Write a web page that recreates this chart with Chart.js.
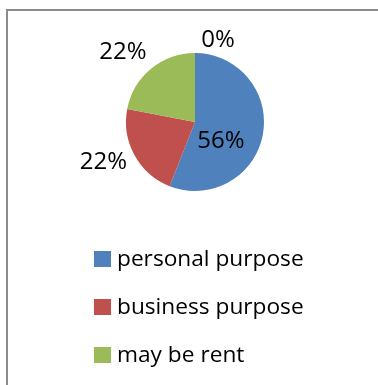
<!DOCTYPE html>
<html>
<head>
<meta charset="utf-8">
<script src="https://cdn.jsdelivr.net/npm/chart.js@4/dist/chart.umd.min.js"></script>
<style>
  html, body { margin: 0; padding: 0; background: #fff; }
  #wrap { position: relative; width: 378px; height: 385px; }
</style>
</head>
<body>
<div id="wrap"><canvas id="chart" width="378" height="385"></canvas></div>
<script>
// purpose of use, share of answers (%)
const categories = ["personal purpose", "business purpose", "may be rent", ""];
const shares = [56, 22, 22, 0];
const colors = ["#4F81BD", "#C0504D", "#9BBB59", "#F79646"];

const FONT = "'Open Sans', 'Noto Sans', sans-serif";

// frame lines along the left and top
const framePlugin = {
    id: 'frame',
    beforeDraw(chart) {
        const ctx = chart.ctx;
        ctx.save();
        ctx.strokeStyle = '#8c8c8c';
        ctx.lineWidth = 2;
        ctx.beginPath();
        ctx.moveTo(7, 385);
        ctx.lineTo(7, 10);
        ctx.lineTo(378, 10);
        ctx.stroke();
        ctx.restore();
    }
};

// percent labels: [radius factor, angle shift in degrees]
const labelPlugin = {
    id: 'pctLabels',
    afterDatasetsDraw(chart, args, opts) {
        const ctx = chart.ctx;
        const meta = chart.getDatasetMeta(0);
        ctx.save();
        ctx.font = opts.font;
        ctx.fillStyle = '#000';
        ctx.textAlign = 'center';
        ctx.textBaseline = 'middle';
        meta.data.forEach((arc, i) => {
            const p = arc.getProps(['x', 'y', 'startAngle', 'endAngle', 'outerRadius'], true);
            const place = opts.place[i];
            const mid = (p.startAngle + p.endAngle) / 2 + place[1] * Math.PI / 180;
            const r = p.outerRadius * place[0];
            const x = p.x + Math.cos(mid) * r;
            const y = p.y + Math.sin(mid) * r;
            ctx.fillText(shares[i] + '%', x, y);
        });
        ctx.restore();
    }
};

// vertical legend under the pie
const legendPlugin = {
    id: 'listLegend',
    afterDraw(chart, args, opts) {
        const ctx = chart.ctx;
        ctx.save();
        ctx.font = opts.font;
        ctx.textBaseline = 'middle';
        let y = opts.top;
        categories.forEach((name, i) => {
            if (!name) return;
            ctx.fillStyle = colors[i];
            ctx.fillRect(opts.left, y - 8, 17, 16);
            ctx.fillStyle = '#000';
            ctx.fillText(name, opts.left + 23, y + 1);
            y += opts.step;
        });
        ctx.restore();
    }
};

new Chart(document.getElementById('chart'), {
    type: 'pie',
    data: {
        labels: categories,
        datasets: [{
            data: shares,
            backgroundColor: colors,
            borderWidth: 0
        }]
    },
    options: {
        responsive: false,
        animation: false,
        layout: { padding: { left: 126, right: 114, top: 53, bottom: 194 } },
        plugins: {
            legend: { display: false },
            tooltip: { enabled: false },
            pctLabels: {
                font: "24px " + FONT,
                place: [[0.465, 25.4], [1.45, 5], [1.45, -6.5], [1.23, 15.7]]
            },
            listLegend: {
                font: "22.7px " + FONT,
                left: 94,
                top: 259,
                step: 48
            }
        }
    },
    plugins: [framePlugin, labelPlugin, legendPlugin]
});
</script>
</body>
</html>
